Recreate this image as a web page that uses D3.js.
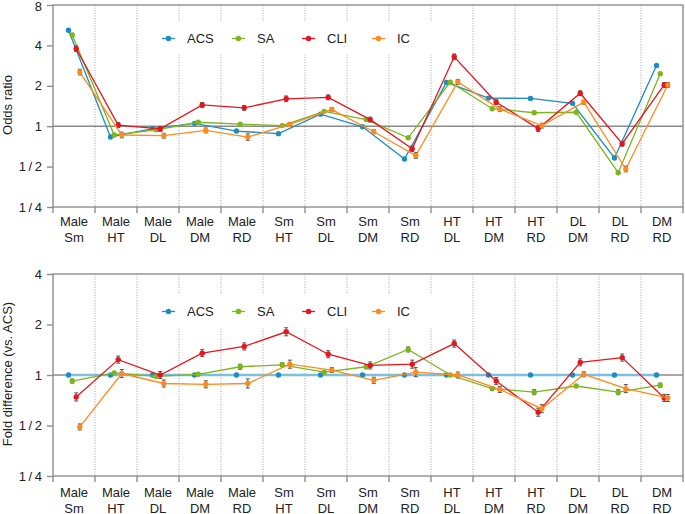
<!DOCTYPE html>
<html><head><meta charset="utf-8">
<script src="https://cdn.jsdelivr.net/npm/d3@7/dist/d3.min.js"></script>
<style>
body{margin:0;background:#fff;}
svg{display:block;font-family:"Liberation Sans",Arial,sans-serif;}
</style></head>
<body><svg id="c" width="685" height="514"></svg>
<script>
const categories = [["Male","Sm"],["Male","HT"],["Male","DL"],["Male","DM"],["Male","RD"],["Sm","HT"],["Sm","DL"],["Sm","DM"],["Sm","RD"],["HT","DL"],["HT","DM"],["HT","RD"],["DL","DM"],["DL","RD"],["DM","RD"]];
const seriesNames = ["ACS","SA","CLI","IC"];
const seriesColors = ["#1b8dc3","#7cb51d","#e8141c","#ff8a1e"];

// Top panel: odds ratios
const oddsACS = [5.19,0.83,0.96,1.05,0.92,0.88,1.23,0.99,0.57,2.12,1.62,1.61,1.48,0.58,2.83];
const oddsSA  = [4.78,0.86,0.94,1.07,1.035,1.01,1.29,1.12,0.82,2.13,1.35,1.26,1.27,0.45,2.46];
const oddsCLI = [3.78,1.02,0.955,1.44,1.37,1.60,1.64,1.12,0.68,3.29,1.51,0.96,1.76,0.74,2.03];
const oddsIC  = [2.53,0.86,0.85,0.93,0.83,1.03,1.33,0.91,0.605,2.14,1.34,1.01,1.51,0.48,2.03];
// error half-widths (log2 units)
const oddsErrACS = [0.02,0.02,0.02,0.02,0.02,0.02,0.02,0.02,0.02,0.02,0.02,0.02,0.02,0.02,0.02];
const oddsErrSA  = [0.04,0.02,0.02,0.02,0.02,0.02,0.02,0.02,0.02,0.02,0.02,0.02,0.02,0.02,0.02];
const oddsErrCLI = [0.07,0.06,0.06,0.06,0.06,0.07,0.06,0.06,0.07,0.07,0.06,0.07,0.06,0.06,0.06];
const oddsErrIC  = [0.07,0.07,0.06,0.06,0.08,0.05,0.05,0.05,0.07,0.06,0.06,0.06,0.05,0.07,0.06];

// Bottom panel: fold difference vs ACS
const foldACS = [1,1,1,1,1,1,1,1,1,1,1,1,1,1,1];
const foldSA  = [0.92,1.03,0.98,1.01,1.12,1.15,1.04,1.12,1.42,1.00,0.83,0.79,0.86,0.79,0.87];
const foldCLI = [0.74,1.235,1.00,1.35,1.48,1.81,1.33,1.14,1.16,1.54,0.92,0.60,1.19,1.27,0.73];
const foldIC  = [0.49,1.02,0.89,0.88,0.89,1.16,1.07,0.93,1.04,1.00,0.82,0.63,1.01,0.83,0.73];
const foldErrACS = [0,0,0,0,0,0,0,0,0,0,0,0,0,0,0];
const foldErrSA  = [0.04,0.03,0.03,0.03,0.05,0.04,0.03,0.04,0.05,0.03,0.04,0.05,0.03,0.05,0.04];
const foldErrCLI = [0.08,0.07,0.07,0.07,0.07,0.08,0.07,0.07,0.08,0.07,0.07,0.08,0.07,0.07,0.07];
const foldErrIC  = [0.06,0.08,0.07,0.07,0.09,0.08,0.05,0.06,0.09,0.06,0.06,0.08,0.05,0.08,0.07];

const oddsTicks = [0.25,0.5,1,2,4,8];
const oddsTickLabels = ["1\u2009/\u20094","1\u2009/\u20092","1","2","4","8"];
const foldTicks = [0.25,0.5,1,2,4];
const foldTickLabels = ["1\u2009/\u20094","1\u2009/\u20092","1","2","4"];

const svg = d3.select("#c");
const X0 = 53, X1 = 683;
const x = d3.scaleBand().domain(d3.range(categories.length)).range([X0, X1]).padding(0);
const offsets = [-5.5,-1.8,2.2,5.8];
const frameColor = "#8e8e8e";

function panel(opt){
  const y = d3.scaleLog().base(2).domain(opt.domain).range([opt.bottom, opt.top]);
  const g = svg.append("g");
  // dotted separators
  g.selectAll(".sep").data(d3.range(1, categories.length)).join("line")
    .attr("x1", i => x(i)).attr("x2", i => x(i))
    .attr("y1", opt.top).attr("y2", opt.bottom)
    .attr("stroke", "#9a9a9a").attr("stroke-width", 0.9).attr("stroke-dasharray", "1,1.6");
  // legend background
  g.append("rect").attr("x", 150).attr("y", opt.legendY - 17).attr("width", 290).attr("height", 33).attr("fill", "#fff");
  // reference line at 1
  g.append("line").attr("x1", X0).attr("x2", X1).attr("y1", y(1)).attr("y2", y(1))
    .attr("stroke", "#8a8a8a").attr("stroke-width", 1.4);
  // frame
  g.append("rect").attr("x", X0).attr("y", opt.top).attr("width", X1 - X0).attr("height", opt.bottom - opt.top)
    .attr("fill", "none").attr("stroke", frameColor).attr("stroke-width", 1.4);
  // y ticks
  const yAxis = d3.axisLeft(y).tickValues(opt.ticks).tickFormat((d,i) => opt.tickLabels[i]).tickSize(6).tickPadding(5);
  const ya = g.append("g").attr("transform", `translate(${X0},0)`).call(yAxis);
  ya.select(".domain").remove();
  ya.selectAll(".tick line").attr("stroke", frameColor).attr("stroke-width", 1.4);
  ya.selectAll(".tick text").attr("font-size", 13).attr("fill", "#222").attr("font-family", '"Liberation Sans",Arial,sans-serif');
  ya.selectAll(".tick text").filter(d => y(d) < 12).attr("dy", "0.42em");
  // x ticks at boundaries
  g.selectAll(".xt").data(d3.range(0, categories.length + 1)).join("line")
    .attr("x1", i => i < categories.length ? x(i) : X1).attr("x2", i => i < categories.length ? x(i) : X1)
    .attr("y1", opt.bottom).attr("y2", opt.bottom + 6)
    .attr("stroke", frameColor).attr("stroke-width", 1.4);
  // x labels
  const cx = i => x(i) + x.bandwidth()/2;
  const lab = g.selectAll(".xl").data(categories).join("text")
    .attr("x", (d,i) => cx(i)).attr("y", opt.bottom + opt.labelDy)
    .attr("text-anchor", "middle").attr("font-size", 13).attr("fill", "#222");
  lab.append("tspan").attr("x", (d,i) => cx(i)).text(d => d[0]);
  lab.append("tspan").attr("x", (d,i) => cx(i)).attr("dy", 15.5).text(d => d[1]);
  // y title
  g.append("text").attr("transform", `translate(12,${(opt.top+opt.bottom)/2 - 1}) rotate(-90)`)
    .attr("text-anchor", "middle").attr("font-size", 13).attr("fill", "#222").text(opt.title);

  // series
  opt.series.forEach((vals, s) => {
    const px = i => cx(i) + offsets[s];
    const pts = vals.map((v,i) => [px(i), y(v)]);
    const lineCol = (opt.acsFlat && s === 0) ? "#7cc0e0" : seriesColors[s];
    const lw = (opt.acsFlat && s === 0) ? 2.6 : 1.3;
    g.append("path").attr("d", d3.line()(pts)).attr("fill", "none")
      .attr("stroke", lineCol).attr("stroke-width", lw);
    const errs = opt.errs[s];
    vals.forEach((v,i) => {
      const e = errs[i];
      if (e > 0.03) {
        const lo = y(v / Math.pow(2, e)), hi = y(v * Math.pow(2, e));
        const xx = px(i);
        g.append("line").attr("x1", xx).attr("x2", xx).attr("y1", lo).attr("y2", hi).attr("stroke", "#555").attr("stroke-width", 1);
        g.append("line").attr("x1", xx-2).attr("x2", xx+2).attr("y1", lo).attr("y2", lo).attr("stroke", "#555").attr("stroke-width", 1);
        g.append("line").attr("x1", xx-2).attr("x2", xx+2).attr("y1", hi).attr("y2", hi).attr("stroke", "#555").attr("stroke-width", 1);
      }
    });
    g.selectAll(null).data(vals).join("circle")
      .attr("cx", (d,i) => px(i)).attr("cy", d => y(d)).attr("r", 2.7)
      .attr("fill", seriesColors[s]);
  });

  // legend
  seriesNames.forEach((n, s) => {
    const lx = 162 + s * 70;
    g.append("line").attr("x1", lx).attr("x2", lx + 13).attr("y1", opt.legendY).attr("y2", opt.legendY)
      .attr("stroke", seriesColors[s]).attr("stroke-width", 1.3);
    g.append("circle").attr("cx", lx + 6.5).attr("cy", opt.legendY).attr("r", 2.7).attr("fill", seriesColors[s]);
    g.append("text").attr("x", lx + 25).attr("y", opt.legendY + 4.7).attr("font-size", 13).attr("fill", "#222").text(n);
  });
}

panel({domain:[0.25,8], top:5, bottom:207, ticks:oddsTicks, tickLabels:oddsTickLabels,
  title:"Odds ratio", legendY:38.5, labelDy:19,
  series:[oddsACS,oddsSA,oddsCLI,oddsIC], errs:[oddsErrACS,oddsErrSA,oddsErrCLI,oddsErrIC], acsFlat:false});
panel({domain:[0.25,4], top:274, bottom:476, ticks:foldTicks, tickLabels:foldTickLabels,
  title:"Fold difference (vs. ACS)", legendY:311.5, labelDy:21,
  series:[foldACS,foldSA,foldCLI,foldIC], errs:[foldErrACS,foldErrSA,foldErrCLI,foldErrIC], acsFlat:true});
</script>
</body></html>
